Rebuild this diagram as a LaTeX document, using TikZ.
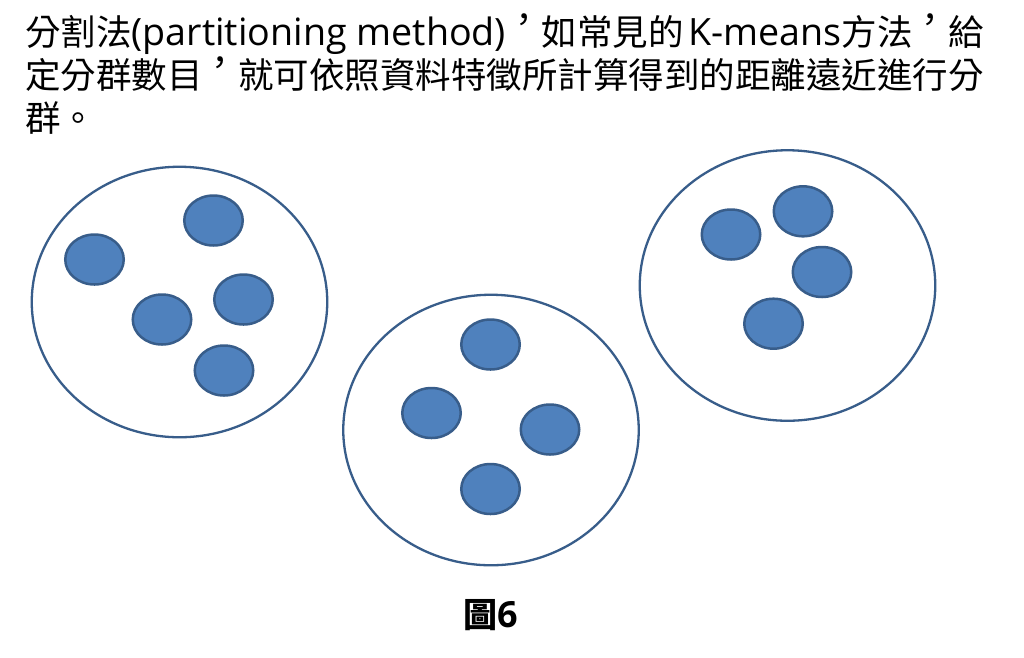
\documentclass[tikz,border=0pt]{standalone}
\usepackage{fontspec}
\setmainfont{Noto Sans CJK TC}
\newfontfamily\lat[Scale=1.06]{Open Sans}
\usetikzlibrary{shapes.geometric}
\definecolor{dotfill}{HTML}{4F81BD}
\definecolor{dotline}{HTML}{385D8A}
% centred full-width comma (Taiwan style)
\newcommand\tcomma{\makebox[1em][l]{\raisebox{0.36em}{，}}}
\begin{document}
\begin{tikzpicture}[x=1pt,y=-1pt,
  txt/.style={anchor=base west, inner sep=0pt, font=\fontsize{35.5}{42}\selectfont},
  cluster/.style={ellipse, draw=dotline, line width=2.3pt, minimum width=295.5pt, minimum height=270.5pt, inner sep=0pt},
  pt/.style={ellipse, draw=dotline, fill=dotfill, line width=2.5pt, minimum width=58.5pt, minimum height=50pt, inner sep=0pt}]
\useasboundingbox[fill=white] (0,0) rectangle (1024,657);
% text
\node[txt] (l1) at (25,45) {\hbox to 958.5pt{分割法{\lat (partitioning method)}\tcomma 如常見的\hfil{\lat K-means}方法\tcomma 給}};
\node[txt] (l2) at (25,88) {定分群數目\tcomma 就可依照資料特徵所計算得到的距離遠近進行分};
\node[txt] (l3) at (25,131) {群。};
% clusters
\node[cluster] (c1) at (179.5,302) {};
\node[cluster] (c2) at (491,430) {};
\node[cluster] (c3) at (787.5,285.5) {};
% points of cluster 1
\node[pt] (p11) at (94.5,259.5) {};
\node[pt] (p12) at (213.5,220.5) {};
\node[pt] (p13) at (243.5,299.5) {};
\node[pt] (p14) at (162,319.5) {};
\node[pt] (p15) at (224,370.5) {};
% points of cluster 2
\node[pt] (p21) at (490.5,344.5) {};
\node[pt] (p22) at (431.5,413) {};
\node[pt] (p23) at (550,429.5) {};
\node[pt] (p24) at (490.5,489) {};
% points of cluster 3
\node[pt] (p31) at (731,234.5) {};
\node[pt] (p32) at (803,211.3) {};
\node[pt] (p33) at (822,272) {};
\node[pt] (p34) at (773.5,323.7) {};
% caption
\node[anchor=base, inner sep=0pt, font=\bfseries\fontsize{34}{40}\selectfont] (cap) at (491,627) {圖{\lat 6}};
\end{tikzpicture}
\end{document}
